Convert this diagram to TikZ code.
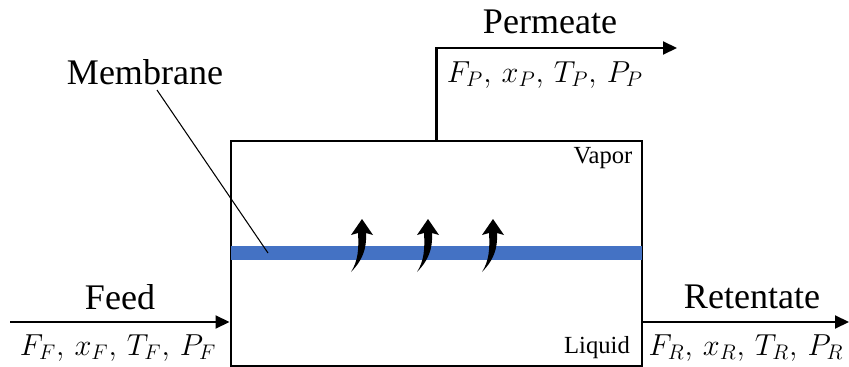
\documentclass[tikz,border=0pt]{standalone}
\usepackage{fontspec}
\setmainfont{Liberation Serif}
\usepackage{tikz}
\usetikzlibrary{positioning, arrows.meta, calc}

\tikzset{
  flow/.style={line width=1.2pt, -{Triangle[length=0.28cm, width=0.26cm]}},
  bigtext/.style={font=\fontsize{20.5}{24}\selectfont, inner sep=0pt},
  vartext/.style={font=\fontsize{18.5}{22}\selectfont, inner sep=0pt},
  phasetext/.style={font=\fontsize{14}{16}\selectfont, inner sep=0pt},
  pics/fluxarrow/.style={code={
    \fill[black] (0,0) -- (11,16) -- (4,14) .. controls (5,30) and (0,42) .. (-11,53)
      .. controls (-4,42) and (-3,30) .. (-4,14) -- (-11,16) -- cycle;
  }}
}

\begin{document}
\begin{tikzpicture}[x=0.2mm, y=-0.2mm]
\definecolor{memBlue}{HTML}{4472C4}
\useasboundingbox (0,0) rectangle (849,367);

% separator vessel
\node[draw, line width=1.7pt, minimum width=8.22cm, minimum height=4.5cm, inner sep=0pt] (sep) at (436.5,253.5) {};
\fill[memBlue] ($(sep.west)+(1.5,-7.5)$) rectangle ($(sep.east)+(-1.5,6.5)$);
\coordinate (memspot) at (268,253);

% streams
\coordinate (feedin) at (10,322);
\coordinate (retout) at (849,322);
\coordinate (permout) at (677,48);
\draw[flow] (feedin) -- (sep.west |- feedin);
\draw[flow] (sep.east |- retout) -- (retout);
\draw[flow] (sep.north) |- (permout);

\node[bigtext] (feed) at (120,297) {Feed};
\node[vartext] (feedvar) at (118,348) {$F_F,\,x_F,\,T_F,\,P_F$};
\node[bigtext] (ret) at (752,297) {Retentate};
\node[vartext] (retvar) at (746,348) {$F_R,\,x_R,\,T_R,\,P_R$};
\node[bigtext] (perm) at (550,22) {Permeate};
\node[vartext] (permvar) at (545,75) {$F_P,\,x_P,\,T_P,\,P_P$};

\node[bigtext] (mem) at (145,72) {Membrane};
\draw[line width=0.6pt] ($(mem.south)+(12,5)$) -- (memspot);

\node[phasetext] (vap) at (603,158) {Vapor};
\node[phasetext] (liq) at (597,348) {Liquid};

% transport through membrane
\foreach \ax in {362,428,493}
  \pic at (\ax,219) {fluxarrow};
\end{tikzpicture}
\end{document}
